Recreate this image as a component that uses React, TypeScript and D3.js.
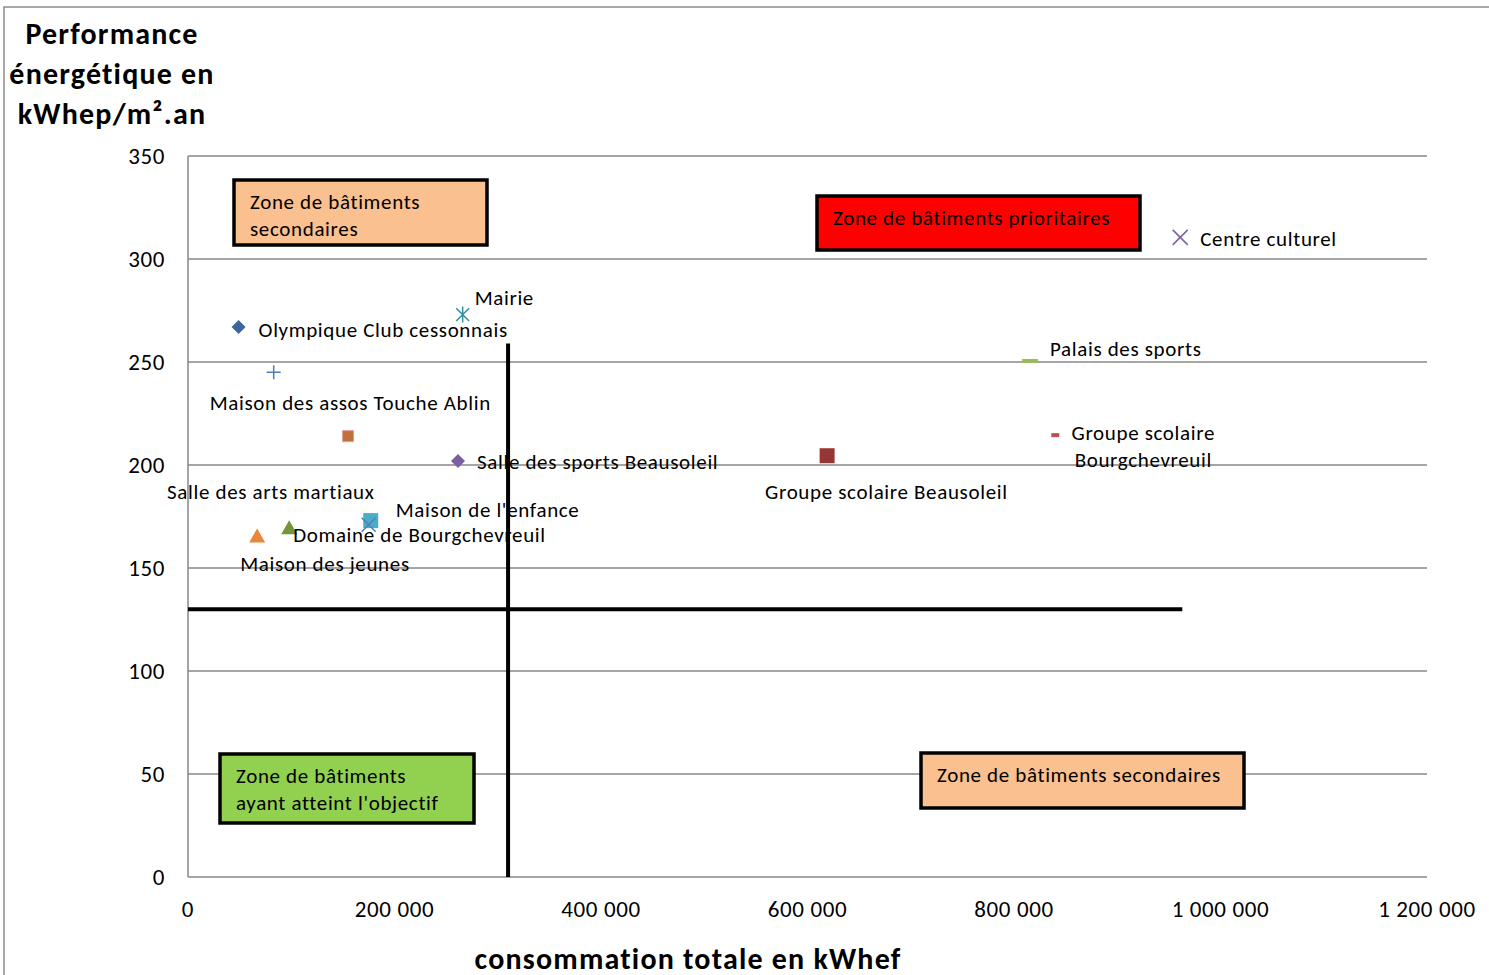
import * as React from 'react';
import * as d3 from 'd3';

// Bâtiments : consommation totale (kWhef) et performance (kWhep/m².an)
const NAMES = [
  'Olympique Club cessonnais',
  'Mairie',
  'Maison des assos Touche Ablin',
  'Salle des arts martiaux',
  'Salle des sports Beausoleil',
  "Maison de l'enfance",
  '',
  'Domaine de Bourgchevreuil',
  'Maison des jeunes',
  'Groupe scolaire Beausoleil',
  'Palais des sports',
  'Groupe scolaire\nBourgchevreuil',
  'Centre culturel',
];
const CONSO = [49000, 266000, 83000, 155000, 261500, 177000, 175000, 98000, 67000, 619000, 815500, 840000, 961000];
const PERF = [267, 273, 245, 214, 202, 173, 171, 169.5, 165.5, 204.5, 250.5, 214.5, 310.5];

// marker styles, same order as the data
const SHAPES = ['diamond', 'asterisk', 'plus', 'square', 'diamond', 'square', 'x', 'triangle', 'triangle', 'square', 'dash', 'dash', 'x'];
const COLORS = ['#3C679A', '#2F8FA3', '#4A7EBB', '#C0703A', '#7B5FA0', '#4BACC6', '#4F81BD', '#77933C', '#E8873A', '#953735', '#9BBB59', '#C0504D', '#7E63A2'];
const SIZES = [14, 16, 14, 11, 14, 15, 14, 16, 16, 15, 16, 8, 15];
// label offsets from the marker, in pixels
const LABEL_DX = [20, 12, -64, -181, 19, 25, 0, 4, -17, -62, 20, 88, 20];
const LABEL_DY = [3, -17, 30, 55, 1, -11, 0, 7, 28, 36, -12, -2, 1];

const X_TICKS = [0, 200000, 400000, 600000, 800000, 1000000, 1200000];
const Y_TICKS = [0, 50, 100, 150, 200, 250, 300, 350];

// objectifs
const X_LIMIT = 310000;
const X_LIMIT_TOP = 259;
const Y_LIMIT = 130;
const Y_LIMIT_END = 963000;

const ZONES = [
  { lines: ['Zone de bâtiments', 'secondaires'], fill: '#FAC090', x: 234, y: 180, w: 253, h: 65 },
  { lines: ['Zone de bâtiments prioritaires'], fill: '#FF0000', x: 817, y: 196, w: 323, h: 54 },
  { lines: ['Zone de bâtiments', "ayant atteint l'objectif"], fill: '#92D050', x: 220, y: 754, w: 254, h: 69 },
  { lines: ['Zone de bâtiments secondaires'], fill: '#FAC090', x: 921, y: 753, w: 323, h: 55 },
];

const FONT = "Carlito, Calibri, Lato, sans-serif";
const W = 1489;
const H = 975;
const M = { left: 188, right: 1427, top: 156, bottom: 877 };

// text styles
const LABEL = { fontSize: 21, letterSpacing: 0.65 };
const TICK = { fontSize: 23, letterSpacing: 0.6 };
const TITLE = { fontSize: 30, letterSpacing: 1.2, fontWeight: 700 };

function Marker({ shape, color, size }: { shape: string; color: string; size: number }) {
  const r = size / 2;
  switch (shape) {
    case 'diamond':
      return <path d={`M0,${-r}L${r},0L0,${r}L${-r},0Z`} fill={color} />;
    case 'square':
      return <rect x={-r} y={-r} width={size} height={size} fill={color} stroke={color === '#C0703A' ? '#E69A9A' : 'none'} strokeWidth={1} />;
    case 'triangle':
      return <path d={`M0,${-r * 0.95}L${r},${r * 0.8}L${-r},${r * 0.8}Z`} fill={color} />;
    case 'x':
      return <path d={`M${-r},${-r}L${r},${r}M${-r},${r}L${r},${-r}`} stroke={color} strokeWidth={1.6} />;
    case 'plus':
      return <path d={`M${-r},0L${r},0M0,${-r}L0,${r}`} stroke={color} strokeWidth={1.5} />;
    case 'asterisk':
      return (
        <path
          d={`M${-r * 0.8},${-r * 0.8}L${r * 0.8},${r * 0.8}M${-r * 0.8},${r * 0.8}L${r * 0.8},${-r * 0.8}M0,${-r}L0,${r}`}
          stroke={color}
          strokeWidth={1.5}
        />
      );
    case 'dash':
      return <rect x={-r} y={-2} width={size} height={4} fill={color} />;
    default:
      return null;
  }
}

export default function App() {
  const x = d3.scaleLinear().domain([0, 1200000]).range([M.left, M.right]);
  const y = d3.scaleLinear().domain([0, 350]).range([M.bottom, M.top]);
  const fmt = (v: number) => d3.format(',')(v).replace(/,/g, ' ');

  return (
    <svg width={W} height={H} style={{ position: 'absolute', left: 0, top: 0, fontFamily: FONT }}>
      <rect width={W} height={H} fill="#fff" />
      {/* outer frame */}
      <path d={`M4,${H}L4,7L${W},7`} fill="none" stroke="#8c8c8c" strokeWidth={1.5} />

      {/* y title */}
      {['Performance', 'énergétique en', 'kWhep/m².an'].map((t, i) => (
        <text key={t} x={112} y={33 + i * 40} dy="0.35em" textAnchor="middle" {...TITLE} fill="#000">
          {t}
        </text>
      ))}

      {/* grid */}
      {Y_TICKS.map((t) => (
        <g key={t}>
          <line x1={M.left} x2={M.right} y1={y(t)} y2={y(t)} stroke="#878787" strokeWidth={1.5} />
          <text x={165} y={y(t)} dy="0.35em" textAnchor="end" {...TICK} fill="#000">
            {t}
          </text>
        </g>
      ))}
      <line x1={M.left} x2={M.left} y1={M.top} y2={M.bottom} stroke="#878787" strokeWidth={1.5} />
      {X_TICKS.map((t) => (
        <text key={t} x={x(t)} y={909} dy="0.35em" textAnchor="middle" {...TICK} fill="#000">
          {fmt(t)}
        </text>
      ))}

      {/* zones */}
      {ZONES.map((z, i) => (
        <g key={i}>
          <rect x={z.x} y={z.y} width={z.w} height={z.h} fill={z.fill} stroke="#000" strokeWidth={3.5} />
          {z.lines.map((l, j) => (
            <text key={j} x={z.x + 16} y={z.y + 22 + j * 27} dy="0.35em" {...LABEL} fill="#000">
              {l}
            </text>
          ))}
        </g>
      ))}

      {/* points */}
      {CONSO.map((c, i) => (
        <g key={i} transform={`translate(${x(c)},${y(PERF[i])})`}>
          <Marker shape={SHAPES[i]} color={COLORS[i]} size={SIZES[i]} />
        </g>
      ))}
      {CONSO.map((c, i) => {
        const lines = NAMES[i].split('\n');
        const multi = lines.length > 1;
        return lines.map((l, j) => (
          <text
            key={`${i}-${j}`}
            x={x(c) + LABEL_DX[i]}
            y={y(PERF[i]) + LABEL_DY[i] + j * 27}
            dy="0.35em"
            textAnchor={multi ? 'middle' : 'start'}
            {...LABEL}
            fill="#000"
          >
            {l}
          </text>
        ));
      })}

      {/* objectif lines */}
      <line x1={x(X_LIMIT)} x2={x(X_LIMIT)} y1={y(X_LIMIT_TOP)} y2={y(0)} stroke="#000" strokeWidth={4} />
      <line x1={x(0)} x2={x(Y_LIMIT_END)} y1={y(Y_LIMIT)} y2={y(Y_LIMIT)} stroke="#000" strokeWidth={4} />

      {/* x title */}
      <text x={688} y={958} dy="0.35em" textAnchor="middle" {...TITLE} fill="#000">
        consommation totale en kWhef
      </text>
    </svg>
  );
}
